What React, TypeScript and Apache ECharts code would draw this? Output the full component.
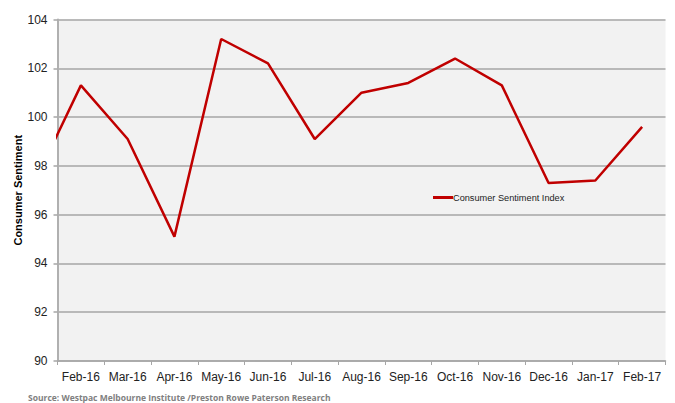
import React, { useEffect, useRef } from "react";
import * as echarts from "echarts";

const categories = ["Feb-16", "Mar-16", "Apr-16", "May-16", "Jun-16", "Jul-16", "Aug-16", "Sep-16", "Oct-16", "Nov-16", "Dec-16", "Jan-17", "Feb-17"];
// Jan-16 precedes the visible window (clipped at the axis)
const priorMonthValue = 97.3;
const sentimentValues = [101.3, 99.1, 95.1, 103.2, 102.2, 99.1, 101.0, 101.4, 102.4, 101.3, 97.3, 97.4, 99.6];
const seriesName = "Consumer Sentiment Index";
const yTitle = "Consumer Sentiment";
const sourceText = "Source: Westpac Melbourne Institute /Preston Rowe Paterson Research";

export default function App() {
  const ref = useRef<HTMLDivElement>(null);
  useEffect(() => {
    if (!ref.current) return;
    const chart = echarts.init(ref.current, null, { renderer: "svg" });
    const data: [number, number][] = [[-1, priorMonthValue]];
    sentimentValues.forEach((v, i) => data.push([i, v]));
    const n = categories.length;
    chart.setOption({
      animation: false,
      backgroundColor: "#ffffff",
      textStyle: { fontFamily: "Liberation Sans, Arial, sans-serif" },
      grid: {
        left: 57.5,
        right: 9.5,
        top: 19.5,
        bottom: 42,
        show: true,
        backgroundColor: "#f2f2f2",
        borderWidth: 0,
        containLabel: false,
        outerBoundsMode: "none",
      },
      legend: {
        left: 428,
        top: 188,
        itemWidth: 20,
        itemHeight: 3,
        icon: "rect",
        data: [seriesName],
        textStyle: { fontSize: 9.2, color: "#222", fontFamily: "Liberation Sans, Arial, sans-serif", padding: [0, 0, 0, -5] },
      },
      xAxis: [
        {
          type: "category",
          data: categories,
          boundaryGap: true,
          axisLine: { show: true, lineStyle: { color: "#a6a6a6", width: 1.5 } },
          axisTick: { show: true, length: 4, lineStyle: { color: "#a6a6a6", width: 1 } },
          axisLabel: { color: "#222", fontSize: 12, margin: 10, interval: 0 },
          splitLine: { show: false },
        },
        {
          type: "value",
          min: -0.5,
          max: n - 0.5,
          show: false,
          splitLine: { show: false },
        },
      ],
      yAxis: {
        type: "value",
        min: 90,
        max: 104,
        interval: 2,
        name: yTitle,
        nameLocation: "middle",
        nameGap: 34,
        nameMoveOverlap: false,
        nameTextStyle: { fontSize: 11, fontWeight: "bold", color: "#000" },
        axisLine: { show: true, onZero: false, lineStyle: { color: "#b0b0b0", width: 2 } },
        axisTick: { show: true, length: 4, lineStyle: { color: "#a6a6a6", width: 1.5 } },
        axisLabel: { color: "#222", fontSize: 12, margin: 10 },
        splitLine: { show: true, lineStyle: { color: "#a6a6a6", width: 1.5 } },
      },
      series: [
        {
          name: seriesName,
          type: "line",
          xAxisIndex: 1,
          data,
          clip: true,
          showSymbol: false,
          symbol: "none",
          color: "#c00000",
          lineStyle: { color: "#c00000", width: 2.5 },
        },
      ],
      graphic: [
        {
          type: "text",
          left: 28,
          top: 393,
          style: {
            text: sourceText,
            fill: "#808080",
            fontSize: 8.5,
            fontWeight: "bold",
            fontFamily: "Open Sans, sans-serif",
          },
        },
      ],
    });
    return () => chart.dispose();
  }, []);
  return <div ref={ref} style={{ position: "fixed", left: 0, top: 0, width: 675, height: 403 }} />;
}
